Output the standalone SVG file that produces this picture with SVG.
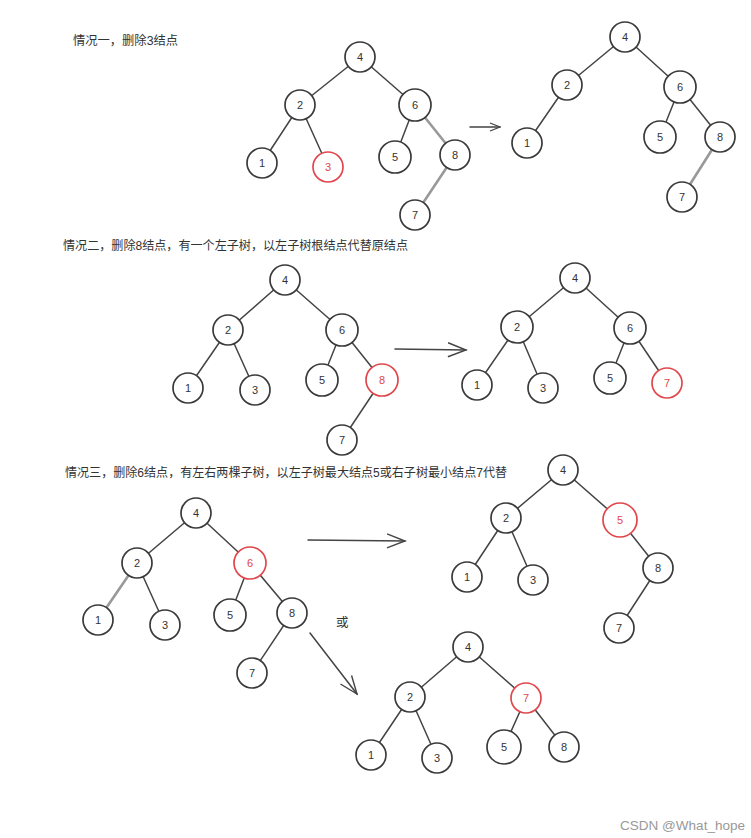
<svg xmlns="http://www.w3.org/2000/svg" width="751" height="838" viewBox="0 0 751 838">
<style>
.bg{fill:#ffffff}
.n circle{fill:#ffffff;stroke:#3a3a3a;stroke-width:1.7}
.n text{font-family:"Liberation Sans","DejaVu Sans",sans-serif;font-size:11px;fill:#333;text-anchor:middle;dominant-baseline:central}
.n.red circle{stroke:#e0474c}
.n.red text{fill:#e0474c}
.e line{stroke:#444;stroke-width:1.5;stroke-linecap:round}
.e line.g{stroke:#999;stroke-width:2.6}
.arr{stroke:#444;stroke-width:1.4;fill:none}
.h{font-family:"Liberation Sans","Noto Sans CJK SC",sans-serif;font-size:12.5px;fill:#333}
.wm{font-family:"Liberation Sans","DejaVu Sans",sans-serif;font-size:12.5px;fill:#999}
</style>
<defs>
<marker id="head" markerUnits="userSpaceOnUse" markerWidth="22" markerHeight="16" refX="20" refY="8" orient="auto" viewBox="0 0 22 16">
<path d="M2,1 L20,8 L2,15" fill="none" stroke="#444" stroke-width="1.4"/>
</marker>
<marker id="headS" markerUnits="userSpaceOnUse" markerWidth="12" markerHeight="10" refX="11" refY="5" orient="auto" viewBox="0 0 12 10">
<path d="M1,1 L11,5 L1,9" fill="none" stroke="#444" stroke-width="1.3"/>
</marker>
</defs>
<rect class="bg" x="0" y="0" width="751" height="838"/>

<text class="h" x="73" y="45" textLength="105" lengthAdjust="spacingAndGlyphs">情况一，删除3结点</text>
<text class="h" x="63" y="250" textLength="345" lengthAdjust="spacingAndGlyphs">情况二，删除8结点，有一个左子树，以左子树根结点代替原结点</text>
<text class="h" x="65" y="477" textLength="442" lengthAdjust="spacingAndGlyphs">情况三，删除6结点，有左右两棵子树，以左子树最大结点5或右子树最小结点7代替</text>
<text class="h" x="336" y="627">或</text>

<g id="connectors" class="e">
<!-- tree 1 -->
<line x1="360" y1="57" x2="300" y2="105"/>
<line x1="360" y1="57" x2="415" y2="105"/>
<line x1="300" y1="105" x2="262" y2="163"/>
<line x1="300" y1="105" x2="328" y2="167"/>
<line x1="415" y1="105" x2="395" y2="157"/>
<line class="g" x1="415" y1="105" x2="455" y2="155"/>
<line class="g" x1="455" y1="155" x2="415" y2="215"/>
<!-- tree 2 -->
<line x1="625" y1="37" x2="567" y2="85"/>
<line x1="625" y1="37" x2="680" y2="87"/>
<line x1="567" y1="85" x2="527" y2="143"/>
<line x1="680" y1="87" x2="660" y2="137"/>
<line x1="680" y1="87" x2="720" y2="137"/>
<line class="g" x1="720" y1="137" x2="682" y2="197"/>
<!-- tree 3 -->
<line x1="285" y1="280" x2="228" y2="330"/>
<line x1="285" y1="280" x2="342" y2="330"/>
<line x1="228" y1="330" x2="188" y2="388"/>
<line x1="228" y1="330" x2="255" y2="390"/>
<line x1="342" y1="330" x2="322" y2="380"/>
<line x1="342" y1="330" x2="382" y2="380"/>
<line x1="382" y1="380" x2="342" y2="440"/>
<!-- tree 4 -->
<line x1="575" y1="278" x2="517" y2="327"/>
<line x1="575" y1="278" x2="630" y2="328"/>
<line x1="517" y1="327" x2="477" y2="385"/>
<line x1="517" y1="327" x2="543" y2="388"/>
<line x1="630" y1="328" x2="610" y2="378"/>
<line x1="630" y1="328" x2="667" y2="383"/>
<!-- tree 5 -->
<line x1="196" y1="513" x2="137" y2="563"/>
<line x1="196" y1="513" x2="250" y2="563"/>
<line class="g" x1="137" y1="563" x2="98" y2="620"/>
<line x1="137" y1="563" x2="165" y2="625"/>
<line x1="250" y1="563" x2="230" y2="615"/>
<line x1="250" y1="563" x2="292" y2="613"/>
<line x1="292" y1="613" x2="252" y2="673"/>
<!-- tree 6 -->
<line x1="563" y1="470" x2="506" y2="518"/>
<line x1="563" y1="470" x2="620" y2="520"/>
<line x1="506" y1="518" x2="467" y2="577"/>
<line x1="506" y1="518" x2="533" y2="580"/>
<line x1="620" y1="520" x2="658" y2="568"/>
<line x1="658" y1="568" x2="619" y2="628"/>
<!-- tree 7 -->
<line x1="468" y1="647" x2="410" y2="697"/>
<line x1="468" y1="647" x2="526" y2="698"/>
<line x1="410" y1="697" x2="371" y2="755"/>
<line x1="410" y1="697" x2="437" y2="758"/>
<line x1="526" y1="698" x2="504" y2="747"/>
<line x1="526" y1="698" x2="564" y2="747"/>
<!-- transition arrows -->
<line class="arr" x1="470" y1="127" x2="500" y2="127" marker-end="url(#headS)"/>
<line class="arr" x1="395" y1="349" x2="466" y2="350" marker-end="url(#head)"/>
<line class="arr" x1="308" y1="540" x2="405" y2="541" marker-end="url(#head)"/>
<line class="arr" x1="310" y1="633" x2="357" y2="694" marker-end="url(#head)"/>
</g>

<!-- tree 1 -->
<g id="t1-n4" class="n"><circle cx="360" cy="57" r="15"/><text x="360" y="57">4</text></g>
<g id="t1-n2" class="n"><circle cx="300" cy="105" r="15"/><text x="300" y="105">2</text></g>
<g id="t1-n6" class="n"><circle cx="415" cy="105" r="16"/><text x="415" y="105">6</text></g>
<g id="t1-n1" class="n"><circle cx="262" cy="163" r="15"/><text x="262" y="163">1</text></g>
<g id="t1-n3" class="n red"><circle cx="328" cy="167" r="15"/><text x="328" y="167">3</text></g>
<g id="t1-n5" class="n"><circle cx="395" cy="157" r="16"/><text x="395" y="157">5</text></g>
<g id="t1-n8" class="n"><circle cx="455" cy="155" r="15"/><text x="455" y="155">8</text></g>
<g id="t1-n7" class="n"><circle cx="415" cy="215" r="15"/><text x="415" y="215">7</text></g>

<!-- tree 2 -->
<g id="t2-n4" class="n"><circle cx="625" cy="37" r="15"/><text x="625" y="37">4</text></g>
<g id="t2-n2" class="n"><circle cx="567" cy="85" r="15"/><text x="567" y="85">2</text></g>
<g id="t2-n6" class="n"><circle cx="680" cy="87" r="16"/><text x="680" y="87">6</text></g>
<g id="t2-n1" class="n"><circle cx="527" cy="143" r="15"/><text x="527" y="143">1</text></g>
<g id="t2-n5" class="n"><circle cx="660" cy="137" r="16"/><text x="660" y="137">5</text></g>
<g id="t2-n8" class="n"><circle cx="720" cy="137" r="15"/><text x="720" y="137">8</text></g>
<g id="t2-n7" class="n"><circle cx="682" cy="197" r="15"/><text x="682" y="197">7</text></g>

<!-- tree 3 -->
<g id="t3-n4" class="n"><circle cx="285" cy="280" r="15"/><text x="285" y="280">4</text></g>
<g id="t3-n2" class="n"><circle cx="228" cy="330" r="15"/><text x="228" y="330">2</text></g>
<g id="t3-n6" class="n"><circle cx="342" cy="330" r="16"/><text x="342" y="330">6</text></g>
<g id="t3-n1" class="n"><circle cx="188" cy="388" r="15"/><text x="188" y="388">1</text></g>
<g id="t3-n3" class="n"><circle cx="255" cy="390" r="15"/><text x="255" y="390">3</text></g>
<g id="t3-n5" class="n"><circle cx="322" cy="380" r="16"/><text x="322" y="380">5</text></g>
<g id="t3-n8" class="n red"><circle cx="382" cy="380" r="16"/><text x="382" y="380">8</text></g>
<g id="t3-n7" class="n"><circle cx="342" cy="440" r="15"/><text x="342" y="440">7</text></g>

<!-- tree 4 -->
<g id="t4-n4" class="n"><circle cx="575" cy="278" r="15"/><text x="575" y="278">4</text></g>
<g id="t4-n2" class="n"><circle cx="517" cy="327" r="16"/><text x="517" y="327">2</text></g>
<g id="t4-n6" class="n"><circle cx="630" cy="328" r="16"/><text x="630" y="328">6</text></g>
<g id="t4-n1" class="n"><circle cx="477" cy="385" r="15"/><text x="477" y="385">1</text></g>
<g id="t4-n3" class="n"><circle cx="543" cy="388" r="15"/><text x="543" y="388">3</text></g>
<g id="t4-n5" class="n"><circle cx="610" cy="378" r="16"/><text x="610" y="378">5</text></g>
<g id="t4-n7" class="n red"><circle cx="667" cy="383" r="15"/><text x="667" y="383">7</text></g>

<!-- tree 5 -->
<g id="t5-n4" class="n"><circle cx="196" cy="513" r="15"/><text x="196" y="513">4</text></g>
<g id="t5-n2" class="n"><circle cx="137" cy="563" r="15"/><text x="137" y="563">2</text></g>
<g id="t5-n6" class="n red"><circle cx="250" cy="563" r="16"/><text x="250" y="563">6</text></g>
<g id="t5-n1" class="n"><circle cx="98" cy="620" r="15"/><text x="98" y="620">1</text></g>
<g id="t5-n3" class="n"><circle cx="165" cy="625" r="15"/><text x="165" y="625">3</text></g>
<g id="t5-n5" class="n"><circle cx="230" cy="615" r="16"/><text x="230" y="615">5</text></g>
<g id="t5-n8" class="n"><circle cx="292" cy="613" r="15"/><text x="292" y="613">8</text></g>
<g id="t5-n7" class="n"><circle cx="252" cy="673" r="15"/><text x="252" y="673">7</text></g>

<!-- tree 6 -->
<g id="t6-n4" class="n"><circle cx="563" cy="470" r="15"/><text x="563" y="470">4</text></g>
<g id="t6-n2" class="n"><circle cx="506" cy="518" r="15"/><text x="506" y="518">2</text></g>
<g id="t6-n5" class="n red"><circle cx="620" cy="520" r="17"/><text x="620" y="520">5</text></g>
<g id="t6-n1" class="n"><circle cx="467" cy="577" r="15"/><text x="467" y="577">1</text></g>
<g id="t6-n3" class="n"><circle cx="533" cy="580" r="15"/><text x="533" y="580">3</text></g>
<g id="t6-n8" class="n"><circle cx="658" cy="568" r="15"/><text x="658" y="568">8</text></g>
<g id="t6-n7" class="n"><circle cx="619" cy="628" r="15"/><text x="619" y="628">7</text></g>

<!-- tree 7 -->
<g id="t7-n4" class="n"><circle cx="468" cy="647" r="15"/><text x="468" y="647">4</text></g>
<g id="t7-n2" class="n"><circle cx="410" cy="697" r="15"/><text x="410" y="697">2</text></g>
<g id="t7-n7" class="n red"><circle cx="526" cy="698" r="15"/><text x="526" y="698">7</text></g>
<g id="t7-n1" class="n"><circle cx="371" cy="755" r="15"/><text x="371" y="755">1</text></g>
<g id="t7-n3" class="n"><circle cx="437" cy="758" r="15"/><text x="437" y="758">3</text></g>
<g id="t7-n5" class="n"><circle cx="504" cy="747" r="17"/><text x="504" y="747">5</text></g>
<g id="t7-n8" class="n"><circle cx="564" cy="747" r="15"/><text x="564" y="747">8</text></g>

<text class="wm" x="620" y="830" textLength="125" lengthAdjust="spacingAndGlyphs">CSDN @What_hope</text>
</svg>
